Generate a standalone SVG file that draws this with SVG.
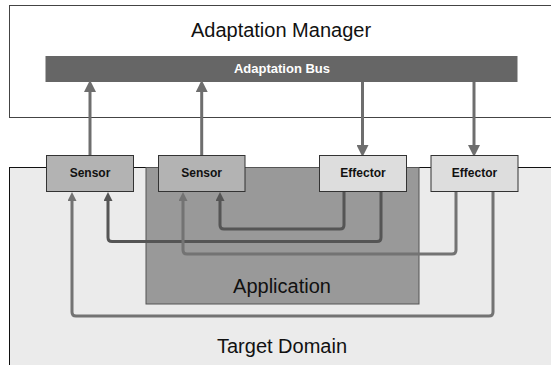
<svg xmlns="http://www.w3.org/2000/svg" width="551" height="365" viewBox="0 0 551 365">
<style>
  .big{font-family:"Liberation Sans",Arial,sans-serif;font-size:20px;fill:#111;text-anchor:middle}
  .lbl{font-family:"Liberation Sans",Arial,sans-serif;font-size:12px;font-weight:bold;fill:#111;text-anchor:middle}
  .sensor{fill:#b3b3b3;stroke:#333;stroke-width:1}
  .effector{fill:#dddddd;stroke:#333;stroke-width:1}
  .bus{fill:none;stroke:#6e6e6e;stroke-width:3}
  .dark{fill:none;stroke:#555;stroke-width:3}
  .light{fill:none;stroke:#737373;stroke-width:3}
</style>
<defs>
  <marker id="ahBus" markerUnits="userSpaceOnUse" markerWidth="12" markerHeight="12" refX="0" refY="5" orient="auto" viewBox="0 0 10 10">
    <path d="M0,0 L10,5 L0,10 z" fill="#6e6e6e"/>
  </marker>
  <marker id="ahDark" markerUnits="userSpaceOnUse" markerWidth="9" markerHeight="9" refX="0" refY="4.5" orient="auto" viewBox="0 0 9 9">
    <path d="M0,0 L9,4.5 L0,9 z" fill="#555"/>
  </marker>
  <marker id="ahLight" markerUnits="userSpaceOnUse" markerWidth="9" markerHeight="9" refX="0" refY="4.5" orient="auto" viewBox="0 0 9 9">
    <path d="M0,0 L9,4.5 L0,9 z" fill="#737373"/>
  </marker>
</defs>
<rect width="551" height="365" fill="#fff"/>
<g id="adaptation-manager">
  <rect x="9.5" y="5.5" width="560" height="112" fill="#fff" stroke="#444" stroke-width="1"/>
  <text class="big" x="281" y="37">Adaptation Manager</text>
</g>
<g id="adaptation-bus">
  <rect x="45.5" y="56" width="472" height="26" fill="#666"/>
  <text class="lbl" x="282" y="73" style="fill:#fff;font-size:13px">Adaptation Bus</text>
</g>
<g id="target-domain">
  <rect x="9.5" y="167.5" width="560" height="220" fill="#ebebeb" stroke="#111" stroke-width="1"/>
  <text class="big" x="282" y="353">Target Domain</text>
</g>
<g id="application">
  <rect x="146" y="167.5" width="273" height="136.5" fill="#999" stroke="#555" stroke-width="1"/>
  <text class="big" x="282" y="293">Application</text>
</g>
<g id="connectors">
  <path class="bus" d="M90,155 V92" marker-end="url(#ahBus)"/>
  <path class="bus" d="M201.7,155 V92" marker-end="url(#ahBus)"/>
  <path class="bus" d="M362.5,82 V145" marker-end="url(#ahBus)"/>
  <path class="bus" d="M474,82 V145" marker-end="url(#ahBus)"/>
  <path class="dark" d="M344,192 V225 Q344,229 340,229 H224 Q220,229 220,225 V201" marker-end="url(#ahDark)"/>
  <path class="dark" d="M381,192 V237.5 Q381,241.5 377,241.5 H112 Q108,241.5 108,237.5 V201" marker-end="url(#ahDark)"/>
  <path class="light" d="M456,192 V250 Q456,254 452,254 H187 Q183,254 183,250 V201" marker-end="url(#ahLight)"/>
  <path class="light" d="M493,192 V312 Q493,316 489,316 H76 Q72,316 72,312 V201" marker-end="url(#ahLight)"/>
</g>
<g id="sensor-1">
  <rect class="sensor" x="46.5" y="155.5" width="87" height="36"/>
  <text class="lbl" x="90" y="177">Sensor</text>
</g>
<g id="sensor-2">
  <rect class="sensor" x="158.5" y="155.5" width="86.5" height="36"/>
  <text class="lbl" x="201.7" y="177">Sensor</text>
</g>
<g id="effector-1">
  <rect class="effector" x="319.5" y="155.5" width="87" height="36"/>
  <text class="lbl" x="363" y="177">Effector</text>
</g>
<g id="effector-2">
  <rect class="effector" x="431" y="155.5" width="87" height="36"/>
  <text class="lbl" x="474.5" y="177">Effector</text>
</g>
</svg>
